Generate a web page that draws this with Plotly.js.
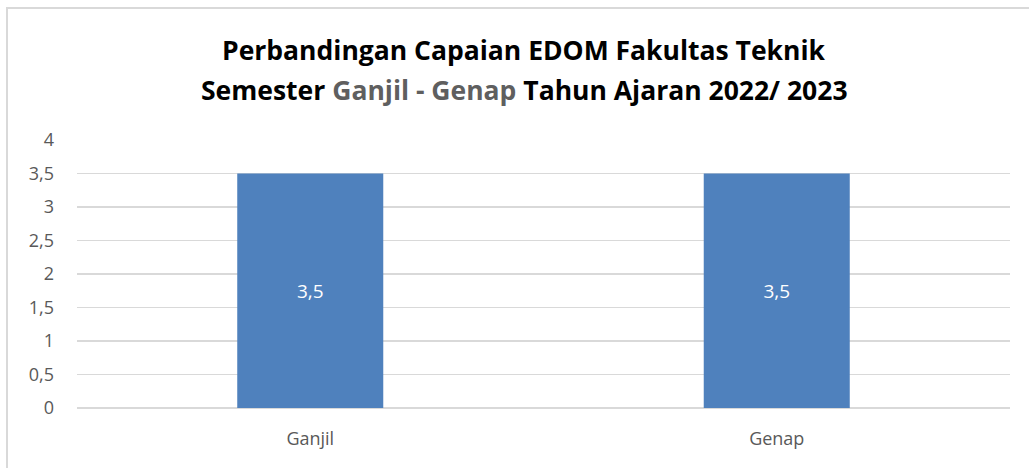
<!DOCTYPE html>
<html>
<head>
<meta charset="utf-8">
<script src="https://cdn.plot.ly/plotly-3.0.1.min.js"></script>
<style>
html,body{margin:0;padding:0;background:#fff;}
#wrap{position:relative;width:1029px;height:468px;overflow:hidden;}
#chart{position:absolute;left:0;top:0;width:1029px;height:468px;}
#frame{position:absolute;left:6px;top:7px;width:1100px;height:600px;border-left:2px solid #d9d9d9;border-top:2px solid #d9d9d9;pointer-events:none;}
</style>
</head>
<body>
<div id="wrap"><div id="chart"></div><div id="frame"></div></div>
<script>
const categories = ["Ganjil", "Genap"];
const values = [3.5, 3.5];
const valueLabels = ["3,5", "3,5"];
const yTicks = [0, 0.5, 1, 1.5, 2, 2.5, 3, 3.5, 4];
const yTickLabels = ["0", "0,5", "1", "1,5", "2", "2,5", "3", "3,5", "4"];
const titleLine1 = "Perbandingan Capaian EDOM Fakultas Teknik";
const titlePre = "Semester ";
const titleGray = "Ganjil - Genap";
const titlePost = " Tahun Ajaran 2022/ 2023";

const trace = {
  type: "bar",
  x: categories,
  y: values,
  text: valueLabels,
  textposition: "inside",
  insidetextanchor: "middle",
  textfont: {color: "#ffffff", size: 19, family: "Open Sans, sans-serif"},
  marker: {color: "#4f81bd"},
  hoverinfo: "none"
};

const titleFont = {family: "Open Sans, sans-serif", size: 26.5, color: "#000000"};
const titleX = (524 - 77) / 933;

const layout = {
  width: 1029,
  height: 468,
  margin: {l: 77, r: 19, t: 140, b: 60},
  paper_bgcolor: "rgba(0,0,0,0)",
  plot_bgcolor: "#ffffff",
  separators: ",.",
  bargap: 0.687,
  showlegend: false,
  font: {family: "Open Sans, sans-serif", color: "#595959"},
  annotations: [
    {
      text: "<b>" + titleLine1 + "</b>",
      xref: "paper", yref: "paper", x: titleX, y: (408 - 50) / 268,
      xanchor: "center", yanchor: "middle", showarrow: false,
      font: titleFont
    },
    {
      text: "<b>" + titlePre + "<span style=\"color:#5f5f5f\">" + titleGray + "</span>" + titlePost + "</b>",
      xref: "paper", yref: "paper", x: titleX, y: (408 - 90) / 268,
      xanchor: "center", yanchor: "middle", showarrow: false,
      font: titleFont
    }
  ],
  xaxis: {
    showgrid: false,
    showline: false,
    ticks: "",
    ticklabelstandoff: 18,
    tickfont: {size: 18, color: "#595959"},
    fixedrange: true
  },
  yaxis: {
    range: [0, 4],
    tickvals: yTicks,
    ticktext: yTickLabels,
    showgrid: true,
    gridcolor: "#d9d9d9",
    gridwidth: 1.5,
    zeroline: true,
    zerolinecolor: "#d9d9d9",
    zerolinewidth: 1.5,
    showline: false,
    ticks: "",
    ticklabelstandoff: 22,
    tickfont: {size: 18, color: "#595959"},
    fixedrange: true
  }
};

Plotly.newPlot("chart", [trace], layout, {displayModeBar: false, staticPlot: true});
</script>
</body>
</html>
